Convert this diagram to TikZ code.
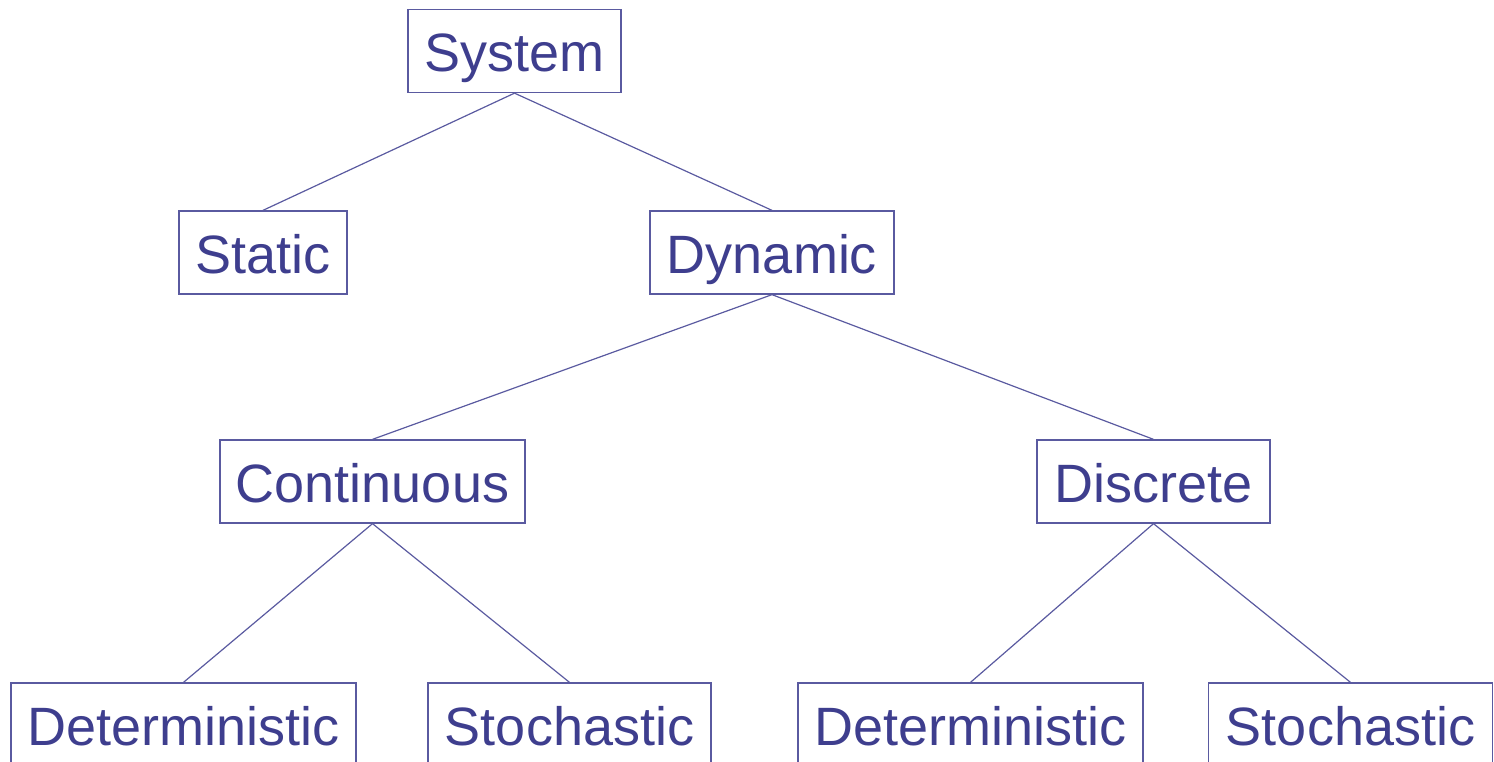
\documentclass[tikz,border=0pt]{standalone}
\usepackage{fontspec}
\setmainfont{Liberation Sans}
\definecolor{boxline}{HTML}{5A5AA0}
\definecolor{boxtext}{HTML}{3E3E8E}
\begin{document}
\begin{tikzpicture}[x=1pt,y=-1pt,
  box/.style={draw=boxline,line width=1.3pt,text=boxtext,inner sep=0pt,
    minimum height=83pt,text height=42pt,text depth=0pt,
    font=\fontsize{54}{60}\selectfont},
  link/.style={draw=boxline,line width=1.2pt}]
\useasboundingbox (0,0) rectangle (1494,762);
\clip (0,0) rectangle (1494,762);
\node[box,minimum width=213pt] (sys) at (514.5,51) {System};
\node[box,minimum width=168pt] (sta) at (263,252.5) {Static};
\node[box,minimum width=244pt] (dyn) at (772,252.5) {Dynamic};
\node[box,minimum width=305pt] (con) at (372.5,481.5) {Continuous};
\node[box,minimum width=233pt] (dis) at (1153.5,481.5) {Discrete};
\node[box,minimum width=345pt] (det1) at (183.5,724.5) {Deterministic};
\node[box,minimum width=283pt] (sto1) at (569.5,724.5) {Stochastic};
\node[box,minimum width=345pt] (det2) at (970.5,724.5) {Deterministic};
\node[box,minimum width=284pt] (sto2) at (1350.5,724.5) {Stochastic};
\draw[link] (sys.south) -- (sta.north);
\draw[link] (sys.south) -- (dyn.north);
\draw[link] (dyn.south) -- (con.north);
\draw[link] (dyn.south) -- (dis.north);
\draw[link] (con.south) -- (det1.north);
\draw[link] (con.south) -- (sto1.north);
\draw[link] (dis.south) -- (det2.north);
\draw[link] (dis.south) -- (sto2.north);
\end{tikzpicture}
\end{document}
